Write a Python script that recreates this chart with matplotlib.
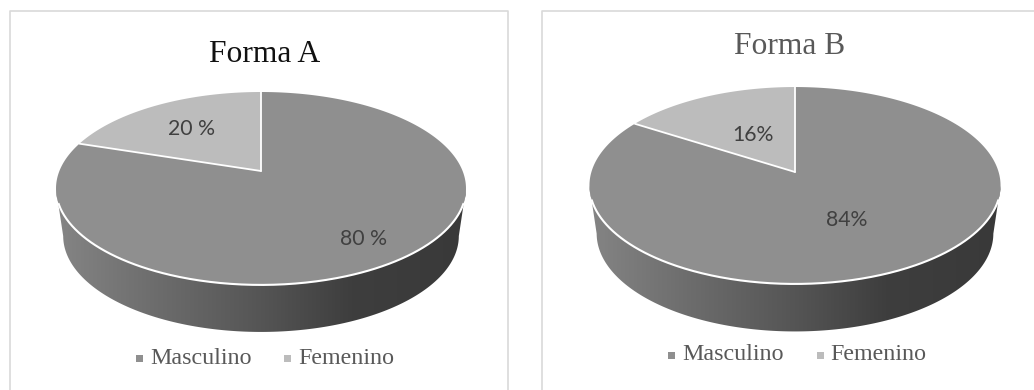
import numpy as np
import matplotlib
matplotlib.use("Agg")
import matplotlib.pyplot as plt
from matplotlib.patches import Polygon, Rectangle
from matplotlib.colors import LinearSegmentedColormap

categories = ["Masculino", "Femenino"]
values_a = [80, 20]
values_b = [84, 16]
labels_a = ["80 %", "20 %"]
labels_b = ["84%", "16%"]
titles = ["Forma A", "Forma B"]

colors = ["#8f8f8f", "#bcbcbc"]
serif = "Liberation Serif"
label_font = "Lato"

fig = plt.figure(figsize=(10.34, 3.9), dpi=100)
ax = fig.add_axes([0, 0, 1, 1])
ax.set_xlim(0, 1034)
ax.set_ylim(390, 0)
ax.axis("off")

wall_cmap = LinearSegmentedColormap.from_list(
    "wall", [(0, "#858585"), (0.25, "#6c6c6c"), (0.5, "#555555"), (0.72, "#3e3e3e"), (1, "#393939")])


def project(theta, cx, cy, a, b, k):
    # theta measured clockwise from the top of the pie, with a simple perspective
    x = np.sin(theta)
    y = np.cos(theta)
    d = 1 + k * y
    return cx + a * x / d, cy - b * y / d


def draw_pie(values, labels, cx, cy, a, b, k, depth, label_pos):
    t = np.linspace(0, 2 * np.pi, 721)
    px, py = project(t, cx, cy, a, b, k)
    mid = (py.min() + py.max()) / 2

    # side wall: lower half of the rim plus the same curve moved down
    ids = np.where(py >= mid)[0]
    top_edge = np.column_stack([px[ids], py[ids]])
    low_x = cx + (px[ids] - cx) * 0.965
    low_y = mid + depth + (py[ids] - mid) * 0.995
    wall = np.vstack([top_edge, np.column_stack([low_x, low_y])[::-1]])
    grad = np.linspace(0, 1, 256).reshape(1, -1)
    im = ax.imshow(grad, cmap=wall_cmap, aspect="auto", zorder=2,
                   extent=[cx - a * 1.02, cx + a * 1.02, low_y.max() + 2, mid - 2])
    im.set_clip_path(Polygon(wall, closed=True, transform=ax.transData))
    ax.set_xlim(0, 1034)
    ax.set_ylim(390, 0)

    # top slices, clockwise from 12 o'clock
    ends = np.cumsum(values) / np.sum(values) * 2 * np.pi
    starts = np.concatenate([[0], ends[:-1]])
    for s, e, c in zip(starts, ends, colors):
        tt = np.linspace(s, e, 300)
        ex, ey = project(tt, cx, cy, a, b, k)
        pts = np.vstack([[cx, cy], np.column_stack([ex, ey])])
        ax.add_patch(Polygon(pts, closed=True, facecolor=c, edgecolor="none", zorder=3))

    # white separators and rim, the rim only shows where the wall is below it
    for e in ends:
        ex, ey = project(np.array([e]), cx, cy, a, b, k)
        ax.plot([cx, ex[0]], [cy, ey[0]], color="white", lw=1.3, zorder=4, solid_capstyle="round")
    rim = top_edge[top_edge[:, 1] >= mid + 15]
    ax.plot(rim[:, 0], rim[:, 1], color="white", lw=1.5, zorder=4)

    for lab, (lbx, lby) in zip(labels, label_pos):
        ax.text(lbx, lby, lab, family=label_font, fontsize=15.3, color="#404040",
                ha="center", va="center", zorder=5)


def draw_legend(y, mark_x, text_x):
    for cat, c, mx, tx in zip(categories, colors, mark_x, text_x):
        ax.add_patch(Rectangle((mx, y - 3), 6.5, 6.5, facecolor=c, edgecolor="none", zorder=3))
        ax.text(tx, y, cat, family=serif, fontsize=17.3, color="#595959",
                ha="left", va="center", zorder=3)


# chart frames
frame = "#d9d9d9"
ax.plot([10, 10, 508, 508], [390, 11, 11, 390], color=frame, lw=1.2, zorder=1)
ax.plot([542, 542, 1034], [390, 11, 11], color=frame, lw=1.2, zorder=1)

ax.text(265, 54, titles[0], family=serif, fontsize=22.7, color="#111111", ha="center", va="center")
ax.text(790, 47, titles[1], family=serif, fontsize=22.7, color="#595959", ha="center", va="center")

draw_pie(values_a, labels_a, 261, 171, 201.6, 93.3, 0.181, 47.5, [(364, 239), (192, 129)])
draw_pie(values_b, labels_b, 795, 172, 203.6, 96.6, 0.137, 48, [(847, 220), (753, 135)])

draw_legend(358, [136, 284], [150, 298])
draw_legend(355, [668, 817], [682, 830])

fig.savefig("out.png", dpi=100)
